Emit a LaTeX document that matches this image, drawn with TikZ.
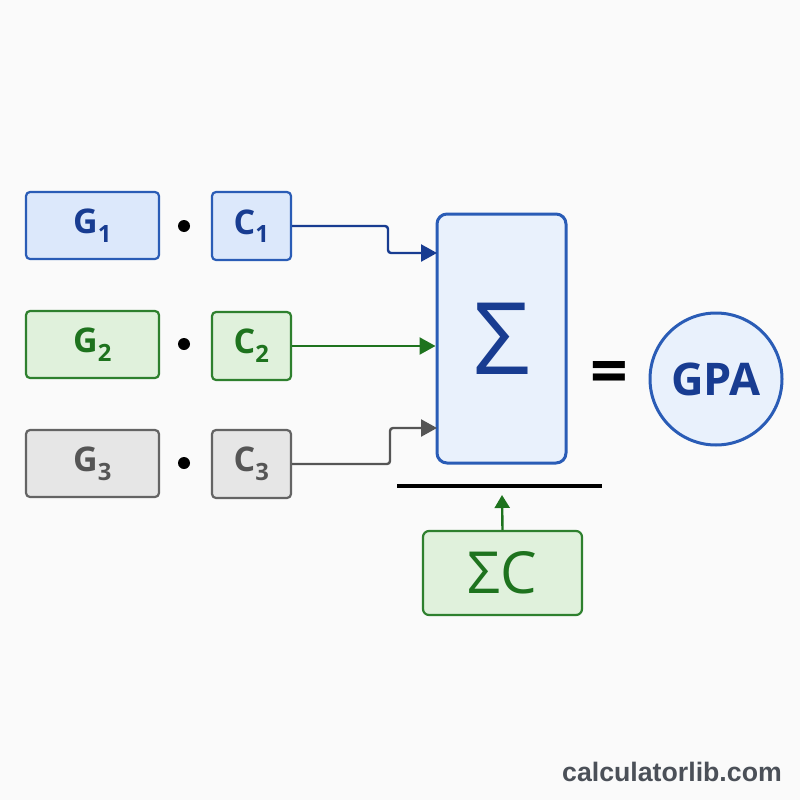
\documentclass[tikz,border=0pt]{standalone}
\usepackage{fontspec}
\setmainfont{Open Sans}
\setsansfont{Liberation Sans}
\usetikzlibrary{arrows.meta,positioning}
\usepackage{xcolor}
\definecolor{gpablue}{RGB}{42,92,182}
\definecolor{inkblue}{RGB}{24,60,145}
\definecolor{paleblue}{RGB}{220,232,251}
\definecolor{sumblue}{RGB}{233,241,252}
\definecolor{leafgreen}{RGB}{46,128,46}
\definecolor{inkgreen}{RGB}{30,115,30}
\definecolor{palegreen}{RGB}{224,241,220}
\definecolor{stonegrey}{RGB}{100,100,100}
\definecolor{inkgrey}{RGB}{85,85,85}
\definecolor{palegrey}{RGB}{230,230,230}
\definecolor{markgrey}{RGB}{75,80,88}
\definecolor{paper}{RGB}{250,250,250}

\tikzset{
  cell/.style={draw,rounded corners=4pt,line width=2.2pt,inner sep=0pt,
    font=\fontsize{34}{38}\selectfont\bfseries},
  gcell/.style={cell,minimum width=133pt,minimum height=67pt},
  ccell/.style={cell,minimum width=79pt,minimum height=68pt},
  bluecell/.style={fill=paleblue,draw=gpablue,text=inkblue},
  greencell/.style={fill=palegreen,draw=leafgreen,text=inkgreen},
  greycell/.style={fill=palegrey,draw=stonegrey,text=inkgrey},
  feed/.style={line width=2.4pt,rounded corners=3pt,
    -{Triangle[length=16pt,width=17pt]}},
  dotmark/.style={circle,fill=black,inner sep=0pt,minimum size=12pt},
}

\begin{document}
\begin{tikzpicture}[x=1pt,y=-1pt]
        \useasboundingbox (0,0) rectangle (800,800);
        \fill[paper] (0,0) rectangle (800,800);
        % Grade and credit cells
        \node[gcell,bluecell] (g1) at (92.5,225.5) {G\textsubscript{1}};
        \node[ccell,bluecell] (c1) at (251.5,226) {C\textsubscript{1}};
        \node[gcell,greencell] (g2) at (92.5,344.5) {G\textsubscript{2}};
        \node[ccell,greencell] (c2) at (251.5,346) {C\textsubscript{2}};
        \node[gcell,greycell] (g3) at (92.5,463.5) {G\textsubscript{3}};
        \node[ccell,greycell] (c3) at (251.5,464) {C\textsubscript{3}};
        % Products
        \node[dotmark] (d1) at (184,226) {};
        \node[dotmark] (d2) at (184,344) {};
        \node[dotmark] (d3) at (184,463) {};
        % Sum
        \node[draw=gpablue,fill=sumblue,line width=3pt,rounded corners=10pt,
          minimum width=129pt,minimum height=249pt,inner sep=0pt,
          text=inkblue,font=\fontsize{100}{100}\selectfont] (sig)
          at (501.5,338.5) {Σ};
        \coordinate (in1) at (437,253);
        \coordinate (in3) at (437,428);
        \draw[feed,inkblue] (c1.east) -| ([xshift=-49pt]in1) -- (in1);
        \draw[feed,inkgreen] (c2.east) -- (c2.east -| sig.west);
        \draw[feed,inkgrey] (c3.east) -| ([xshift=-47pt]in3) -- (in3);
        % Fraction
        \coordinate (barL) at (397,486);
        \coordinate (barR) at (602,486);
        \draw[line width=3.5pt] (barL) -- (barR);
        \node[draw=leafgreen,fill=palegreen,line width=2.2pt,rounded corners=6pt,
          minimum width=159pt,minimum height=84pt,inner sep=0pt,
          text=inkgreen,font=\fontsize{58}{60}\selectfont] (sc)
          at (502.5,573) {ΣC};
        \coordinate (barmid) at (502,495);
        \draw[feed,inkgreen,-{Triangle[length=13pt,width=15pt]}] (sc.north) -- (barmid);
        % Result
        \node[font=\fontsize{66}{66}\selectfont\bfseries] (eq) at (609,378) {=};
        \node[circle,draw=gpablue,fill=sumblue,line width=3pt,minimum size=132pt,
          inner sep=0pt,text=inkblue,font=\fontsize{45}{48}\selectfont\bfseries]
          (gpa) at (716,379) {GPA};
        % Watermark
        \node[font=\sffamily\bfseries\fontsize{26.7}{30}\selectfont,text=markgrey]
          (mark) at (672,772) {calculatorlib.com};
\end{tikzpicture}
\end{document}
